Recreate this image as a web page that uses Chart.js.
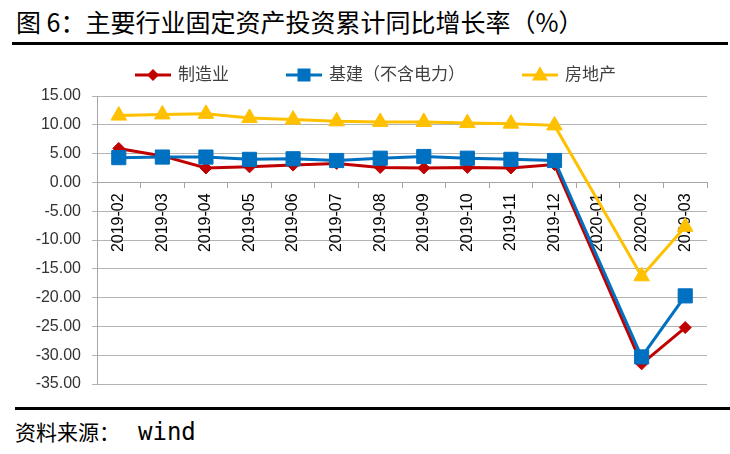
<!DOCTYPE html>
<html>
<head>
<meta charset="utf-8">
<script src="https://cdn.jsdelivr.net/npm/chart.js"></script>
<style>
    body { margin: 0; width: 730px; height: 454px; background: #fff; position: relative; overflow: hidden;
        font-family: "Noto Sans CJK SC", sans-serif; }
    #title { position: absolute; left: 16px; top: 3px; font-size: 25px; line-height: 36px; white-space: nowrap; color: #000; }
    #topline { position: absolute; left: 12px; top: 42px; width: 716px; height: 3px; background: #000; }
    #chartBox { position: absolute; left: 0; top: 48px; width: 730px; height: 358px; }
    #botline { position: absolute; left: 15px; top: 407px; width: 715px; height: 3px; background: #000; }
    #source { position: absolute; left: 15px; top: 413px; font-size: 21px; line-height: 36px; color: #000; white-space: nowrap; }
    #source span { font-family: "DejaVu Sans Mono", monospace; font-size: 24px; margin-left: 18px; }
</style>
</head>
<body>
<div id="title">图 6：主要行业固定资产投资累计同比增长率（%）</div>
<div id="topline"></div>
<div id="chartBox"><canvas id="chart"></canvas></div>
<div id="botline"></div>
<div id="source">资料来源：<span>wind</span></div>
<script>
    const months = ["2019-02", "2019-03", "2019-04", "2019-05", "2019-06", "2019-07", "2019-08",
        "2019-09", "2019-10", "2019-11", "2019-12", "2020-01", "2020-02", "2020-03"]
    const manufacturing = [5.9, 4.6, 2.5, 2.7, 3.0, 3.3, 2.6, 2.5, 2.6, 2.5, 3.1, null, -31.5, -25.2]
    const infrastructure = [4.3, 4.4, 4.4, 4.0, 4.1, 3.8, 4.2, 4.5, 4.2, 4.0, 3.8, null, -30.3, -19.7]
    const realEstate = [11.6, 11.8, 11.9, 11.2, 10.9, 10.6, 10.5, 10.5, 10.3, 10.2, 9.9, null, -16.3, -7.7]
    const seriesNames = ["制造业", "基建（不含电力）", "房地产"]
    const yMin = -35, yMax = 15, yStep = 5

    const RED = "#c00000", BLUE = "#0070c0", YELLOW = "#ffc000"
    const FONT = "'Liberation Sans', 'Noto Sans CJK SC', sans-serif"

    // excel-like legend: line with marker in the middle, then text
    function drawMarker(ctx, style, x, y, size) {
        ctx.beginPath()
        if (style === "rectRot") {
            ctx.moveTo(x, y - size); ctx.lineTo(x + size, y); ctx.lineTo(x, y + size); ctx.lineTo(x - size, y)
        } else if (style === "rect") {
            ctx.rect(x - size, y - size, size * 2, size * 2)
        } else {
            ctx.moveTo(x, y - size * 1.1); ctx.lineTo(x + size, y + size * 0.7); ctx.lineTo(x - size, y + size * 0.7)
        }
        ctx.closePath()
        ctx.fill()
    }

    const legendPlugin = {
        id: "excelLegend",
        afterDraw(chart) {
            const ctx = chart.ctx
            ctx.save()
            ctx.font = "17px " + FONT
            ctx.textBaseline = "middle"
            let x = 135
            const y = 27
            const sizes = [6, 6.5, 8]
            chart.data.datasets.forEach((ds, i) => {
                ctx.strokeStyle = ds.borderColor
                ctx.fillStyle = ds.borderColor
                ctx.lineWidth = 3
                ctx.beginPath()
                ctx.moveTo(x, y); ctx.lineTo(x + 36, y)
                ctx.stroke()
                drawMarker(ctx, ds.pointStyle, x + 18, y, sizes[i])
                ctx.fillStyle = "#404040"
                ctx.fillText(ds.label, x + 43, y)
                x += 43 + ctx.measureText(ds.label).width + 57
            })
            ctx.restore()
        }
    }

    const data = {
        labels: months,
        datasets: [
            {
                label: seriesNames[0], data: manufacturing, borderColor: RED, backgroundColor: RED,
                pointStyle: "rectRot", pointRadius: 6, pointHoverRadius: 6, order: 3
            },
            {
                label: seriesNames[1], data: infrastructure, borderColor: BLUE, backgroundColor: BLUE,
                pointStyle: "rect", pointRadius: 10, pointHoverRadius: 10, order: 2
            },
            {
                label: seriesNames[2], data: realEstate, borderColor: YELLOW, backgroundColor: YELLOW,
                pointStyle: "triangle", pointRadius: 9, pointHoverRadius: 9, order: 1
            }
        ]
    }
    data.datasets.forEach(ds => {
        ds.borderWidth = 3
        ds.pointBorderWidth = 1
        ds.spanGaps = true
        ds.tension = 0
    })

    const config = {
        type: "line",
        data: data,
        options: {
            animation: false,
            responsive: true,
            maintainAspectRatio: false,
            layout: { padding: { top: 48, bottom: 22, right: 23, left: 0 } },
            plugins: {
                legend: { display: false },
                tooltip: { enabled: false }
            },
            scales: {
                x: {
                    position: { y: 0 },
                    offset: true,
                    grid: { drawOnChartArea: false, offset: true, tickLength: 5, color: "#a6a6a6" },
                    border: { display: true, color: "#a6a6a6", width: 1 },
                    ticks: { minRotation: 90, maxRotation: 90, padding: 6, color: "#000", font: { size: 16, family: FONT } }
                },
                y: {
                    min: yMin, max: yMax,
                    afterFit: scale => { scale.width = 97 },
                    grid: { color: "#b3b3b3", tickLength: 5 },
                    border: { display: true, color: "#a6a6a6" },
                    ticks: {
                        stepSize: yStep, padding: 11, color: "#333", font: { size: 16, family: FONT },
                        callback: v => v.toFixed(2)
                    }
                }
            }
        },
        plugins: [legendPlugin]
    }
    new Chart(document.getElementById("chart").getContext("2d"), config)
</script>
</body>
</html>
